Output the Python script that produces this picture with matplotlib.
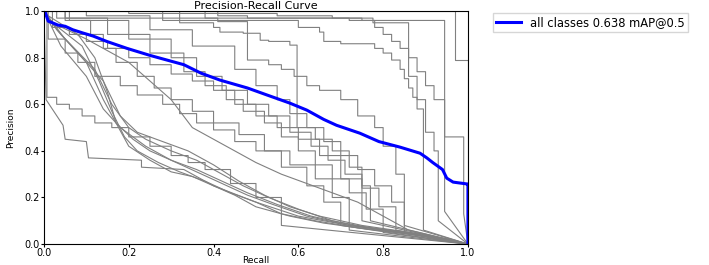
import numpy as np
import matplotlib
matplotlib.use("Agg")
import matplotlib.pyplot as plt

# per-class PR curves (knots); each curve is extended to (1, 0)
class_recall = [
	[0, 0.97, 1.0],
	[0, 0.41, 0.48, 0.75, 0.78, 0.80, 0.82, 0.84, 0.86, 0.88, 0.90, 0.92, 0.945],
	[0, 0.28, 0.60, 0.65, 0.66, 0.70, 0.78, 0.80, 0.82, 0.84, 0.85, 0.86, 0.87, 0.88, 0.895],
	[0, 0.38, 0.776, 0.86, 0.88, 0.90, 0.92, 0.93],
	[0, 0.32, 0.41, 0.48, 0.53, 0.56, 0.59, 0.62, 0.65, 0.70, 0.74, 0.78, 0.80, 0.83, 0.85],
	[0, 0.05, 0.32, 0.40, 0.415, 0.47, 0.51, 0.53, 0.58, 0.597, 0.64, 0.68, 0.72, 0.75, 0.77],
	[0, 0.20, 0.55, 0.68, 0.72, 0.945, 0.99],
	[0, 0.02, 0.06, 0.10, 0.15, 0.20, 0.25, 0.30, 0.35, 0.40, 0.45, 0.50, 0.55, 0.60, 0.65, 0.70, 0.75],
	[0, 0.01, 0.05, 0.08, 0.12, 0.18, 0.22, 0.28, 0.32, 0.36, 0.40, 0.45, 0.50, 0.56, 0.62, 0.66, 0.70],
	[0, 0.007, 0.03, 0.06, 0.09, 0.12, 0.16, 0.20, 0.25, 0.30, 0.34, 0.38, 0.44, 0.50, 0.56],
	[0, 0.06, 0.11, 0.14, 0.17, 0.22, 0.26, 0.30, 0.35, 0.40, 0.46, 0.52, 0.58, 0.64, 0.68, 0.72],
	[0, 0.10, 0.25, 0.35, 0.45, 0.50, 0.55, 0.58, 0.62, 0.66, 0.70, 0.74, 0.78, 0.82, 0.85],
	[0, 0.03, 0.15, 0.25, 0.33, 0.38, 0.43, 0.47, 0.52, 0.56, 0.60, 0.64, 0.68, 0.72, 0.76, 0.80],
	[0, 0.05, 0.20, 0.30, 0.36, 0.42, 0.48, 0.53, 0.58, 0.63, 0.67, 0.71, 0.75, 0.79, 0.83],
	[0, 0.005, 0.045, 0.05, 0.10, 0.105, 0.23, 0.23, 0.33, 0.40, 0.50, 0.60, 0.72, 0.85],
	[0, 0.01, 0.08, 0.12, 0.15, 0.17, 0.20, 0.25, 0.30, 0.35, 0.40, 0.45, 0.50, 0.58, 0.66, 0.78, 0.92],
	[0, 0.02, 0.09, 0.13, 0.16, 0.19, 0.22, 0.27, 0.32, 0.38, 0.44, 0.50, 0.56, 0.64, 0.74, 0.88],
	[0, 0.03, 0.10, 0.14, 0.17, 0.21, 0.25, 0.30, 0.36, 0.42, 0.48, 0.54, 0.62, 0.72, 0.84, 0.96],
	[0, 0.04, 0.12, 0.16, 0.20, 0.24, 0.30, 0.36, 0.42, 0.47, 0.53, 0.60, 0.68, 0.80],
	[0, 0.05, 0.14, 0.18, 0.22, 0.28, 0.34, 0.40, 0.46, 0.52, 0.58, 0.65, 0.75, 0.90],
	[0, 0.04, 0.10, 0.14, 0.18, 0.24, 0.30, 0.36, 0.42, 0.48, 0.55, 0.63, 0.73, 0.86],
	[0, 0.02, 0.10, 0.20, 0.30, 0.35, 0.40, 0.45, 0.50, 0.56, 0.62, 0.68, 0.74, 0.80, 0.86],
]
class_precision = [
	[1.0, 0.79, 0.79],
	[1.0, 0.98, 0.97, 0.96, 0.93, 0.90, 0.87, 0.84, 0.80, 0.74, 0.68, 0.62, 0.14],
	[1.0, 0.96, 0.93, 0.91, 0.87, 0.86, 0.84, 0.82, 0.79, 0.75, 0.71, 0.67, 0.63, 0.58, 0.06],
	[1.0, 0.97, 0.95, 0.72, 0.62, 0.48, 0.40, 0.10],
	[1.0, 0.97, 0.955, 0.79, 0.77, 0.75, 0.72, 0.68, 0.66, 0.62, 0.55, 0.50, 0.42, 0.30, 0.08],
	[1.0, 0.97, 0.95, 0.93, 0.91, 0.905, 0.875, 0.87, 0.854, 0.50, 0.45, 0.40, 0.33, 0.25, 0.10],
	[1.0, 0.99, 0.98, 0.97, 0.96, 0.46, 0.13],
	[1.0, 0.93, 0.90, 0.87, 0.84, 0.80, 0.77, 0.73, 0.70, 0.66, 0.60, 0.55, 0.50, 0.45, 0.38, 0.28, 0.10],
	[1.0, 0.88, 0.82, 0.78, 0.72, 0.68, 0.64, 0.60, 0.56, 0.52, 0.49, 0.44, 0.40, 0.33, 0.25, 0.18, 0.08],
	[1.0, 0.63, 0.60, 0.58, 0.55, 0.52, 0.50, 0.46, 0.42, 0.38, 0.35, 0.32, 0.26, 0.20, 0.08],
	[1.0, 0.96, 0.90, 0.84, 0.78, 0.72, 0.67, 0.62, 0.57, 0.52, 0.47, 0.40, 0.34, 0.28, 0.20, 0.06],
	[1.0, 0.98, 0.92, 0.85, 0.75, 0.68, 0.62, 0.56, 0.50, 0.44, 0.38, 0.32, 0.25, 0.18, 0.05],
	[1.0, 0.97, 0.90, 0.82, 0.74, 0.68, 0.62, 0.57, 0.52, 0.46, 0.40, 0.34, 0.28, 0.22, 0.15, 0.05],
	[1.0, 0.96, 0.88, 0.80, 0.72, 0.66, 0.60, 0.55, 0.48, 0.42, 0.36, 0.30, 0.24, 0.16, 0.06],
	[1.0, 0.62, 0.51, 0.45, 0.44, 0.37, 0.36, 0.33, 0.32, 0.25, 0.18, 0.12, 0.08, 0.05],
	[1.0, 0.98, 0.90, 0.80, 0.65, 0.52, 0.42, 0.36, 0.31, 0.29, 0.25, 0.21, 0.16, 0.12, 0.09, 0.06, 0.03],
	[1.0, 0.95, 0.85, 0.70, 0.57, 0.46, 0.40, 0.35, 0.31, 0.27, 0.22, 0.18, 0.13, 0.10, 0.07, 0.04],
	[1.0, 0.92, 0.78, 0.62, 0.52, 0.45, 0.40, 0.36, 0.31, 0.26, 0.21, 0.17, 0.12, 0.08, 0.05, 0.02],
	[1.0, 0.90, 0.75, 0.60, 0.50, 0.45, 0.40, 0.36, 0.30, 0.25, 0.20, 0.15, 0.10, 0.06],
	[1.0, 0.88, 0.70, 0.55, 0.48, 0.44, 0.40, 0.34, 0.27, 0.21, 0.16, 0.12, 0.08, 0.04],
	[1.0, 0.85, 0.72, 0.58, 0.50, 0.42, 0.36, 0.32, 0.27, 0.22, 0.17, 0.12, 0.08, 0.05],
	[1.0, 0.95, 0.88, 0.78, 0.62, 0.50, 0.45, 0.40, 0.35, 0.30, 0.26, 0.22, 0.18, 0.12, 0.06],
]
# stepped (staircase) curves vs. curves that look like fine slopes
class_stepped = [True] * 14 + [False] * 8

mean_recall = [0, 0.002, 0.01, 0.02, 0.033, 0.05, 0.068, 0.092, 0.116, 0.148, 0.196, 0.25, 0.29,
	0.33, 0.37, 0.415, 0.48, 0.526, 0.58, 0.62, 0.66, 0.69, 0.745, 0.79, 0.84, 0.887, 0.903,
	0.917, 0.94, 0.95, 0.965, 0.998, 1.0, 1.0]
mean_precision = [1.0, 1.0, 0.957, 0.95, 0.94, 0.935, 0.92, 0.906, 0.893, 0.87, 0.84, 0.81, 0.79,
	0.77, 0.734, 0.704, 0.67, 0.64, 0.605, 0.575, 0.535, 0.51, 0.476, 0.44, 0.416, 0.39, 0.37,
	0.35, 0.32, 0.283, 0.266, 0.258, 0.258, 0.0]
mean_label = "all classes 0.638 mAP@0.5"


def curve_path(rec, prec, stepped):
	rec = np.asarray(rec, float)
	prec = np.asarray(prec, float)
	if stepped:
		x = np.repeat(rec, 2)[1:]
		y = np.repeat(prec, 2)[:-1]
	else:
		x, y = rec, prec
	return np.append(x, 1.0), np.append(y, 0.0)


fig = plt.figure(figsize=(7.09, 2.65), dpi=100)
ax = fig.add_axes([0.062, 0.079, 0.598, 0.879])

for rec, prec, stepped in zip(class_recall, class_precision, class_stepped):
	x, y = curve_path(rec, prec, stepped)
	ax.plot(x, y, linewidth=0.8, color="grey")

ax.plot(mean_recall, mean_precision, linewidth=2.2, color="blue", label=mean_label)

ax.set_xlim(0, 1)
ax.set_ylim(0, 1)
ax.set_xticks([0, 0.2, 0.4, 0.6, 0.8, 1.0])
ax.set_yticks([0, 0.2, 0.4, 0.6, 0.8, 1.0])
ax.tick_params(labelsize=7, length=2.5, width=0.8, pad=0.5)
for s in ax.spines.values():
	s.set_linewidth(0.8)
ax.set_xlabel("Recall", fontsize=6.5, labelpad=-1.5)
ax.set_ylabel("Precision", fontsize=6.5, labelpad=7)
ax.set_title("Precision-Recall Curve", fontsize=8, pad=1.5)
ax.legend(bbox_to_anchor=(1.059, 0.99), loc="upper left", fontsize=8.3, frameon=True,
	fancybox=False, edgecolor="#cccccc", handlelength=2.2, handletextpad=0.8,
	borderpad=0.25, borderaxespad=0)

fig.savefig("out.png", dpi=100)
